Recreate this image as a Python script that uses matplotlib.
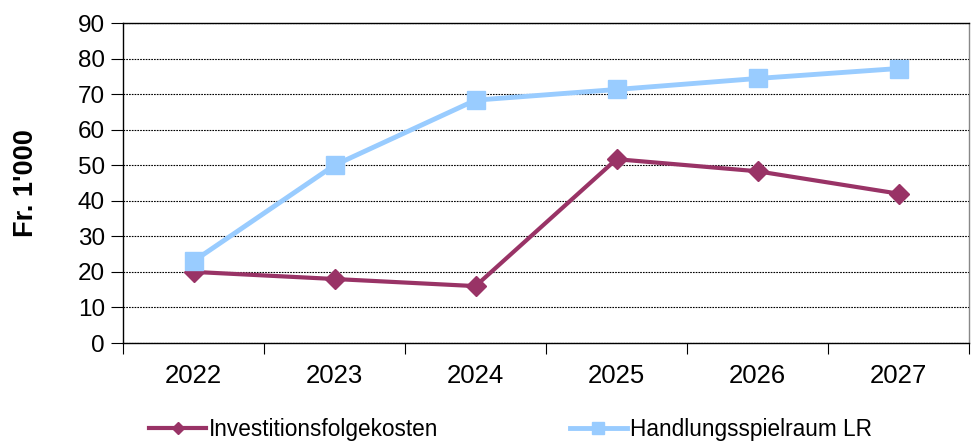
import numpy as np
import matplotlib.pyplot as plt

plt.rcParams['font.family'] = ['Liberation Sans', 'DejaVu Sans']

# data
years = ['2022', '2023', '2024', '2025', '2026', '2027']
investitionsfolgekosten = [20, 18, 16, 51.7, 48.3, 42]
handlungsspielraum = [23, 50, 68.3, 71.3, 74.4, 77.2]

purple = '#993366'
blue = '#99ccff'

fig = plt.figure(figsize=(9.71, 4.43), dpi=100)
ax = fig.add_axes([123/971, 1-343/443, (969-123)/971, (343-23)/443])

x = np.arange(len(years)) + 0.5
ax.plot(x, investitionsfolgekosten, color=purple, lw=3, marker='D', ms=10,
        label='Investitionsfolgekosten', zorder=3)
ax.plot(x, handlungsspielraum, color=blue, lw=3.5, marker='s', ms=13,
        label='Handlungsspielraum LR', zorder=3)

ax.set_xlim(0, len(years))
ax.set_ylim(0, 90)
ax.set_yticks(np.arange(0, 91, 10))
ax.set_xticks(np.arange(0, len(years)+1))
ax.set_xticklabels([])
ax.set_xticks(x, minor=True)
ax.set_xticklabels(years, minor=True)
ax.tick_params(axis='x', which='minor', length=0, pad=15, labelsize=18.5)
ax.tick_params(axis='x', which='major', length=8, direction='out')
ax.tick_params(axis='y', length=9, direction='out', labelsize=17.5, pad=4)

ax.yaxis.grid(True, linestyle=(0, (1.5, 1)), color='black', lw=0.8)
ax.set_axisbelow(True)
for s in ax.spines.values():
    s.set_linewidth(1)
    s.set_color('black')
ax.spines['right'].set_color('#888888')

ax.set_ylabel("Fr. 1'000", fontsize=19.5, fontweight='bold', labelpad=28)

fig.legend(loc='lower left', bbox_to_anchor=(129/971, -0.042), ncol=2,
           frameon=False, fontsize=16.3, handlelength=2.5, handletextpad=0.15,
           columnspacing=5.8, markerscale=0.65)

fig.savefig('out.png', dpi=100)
